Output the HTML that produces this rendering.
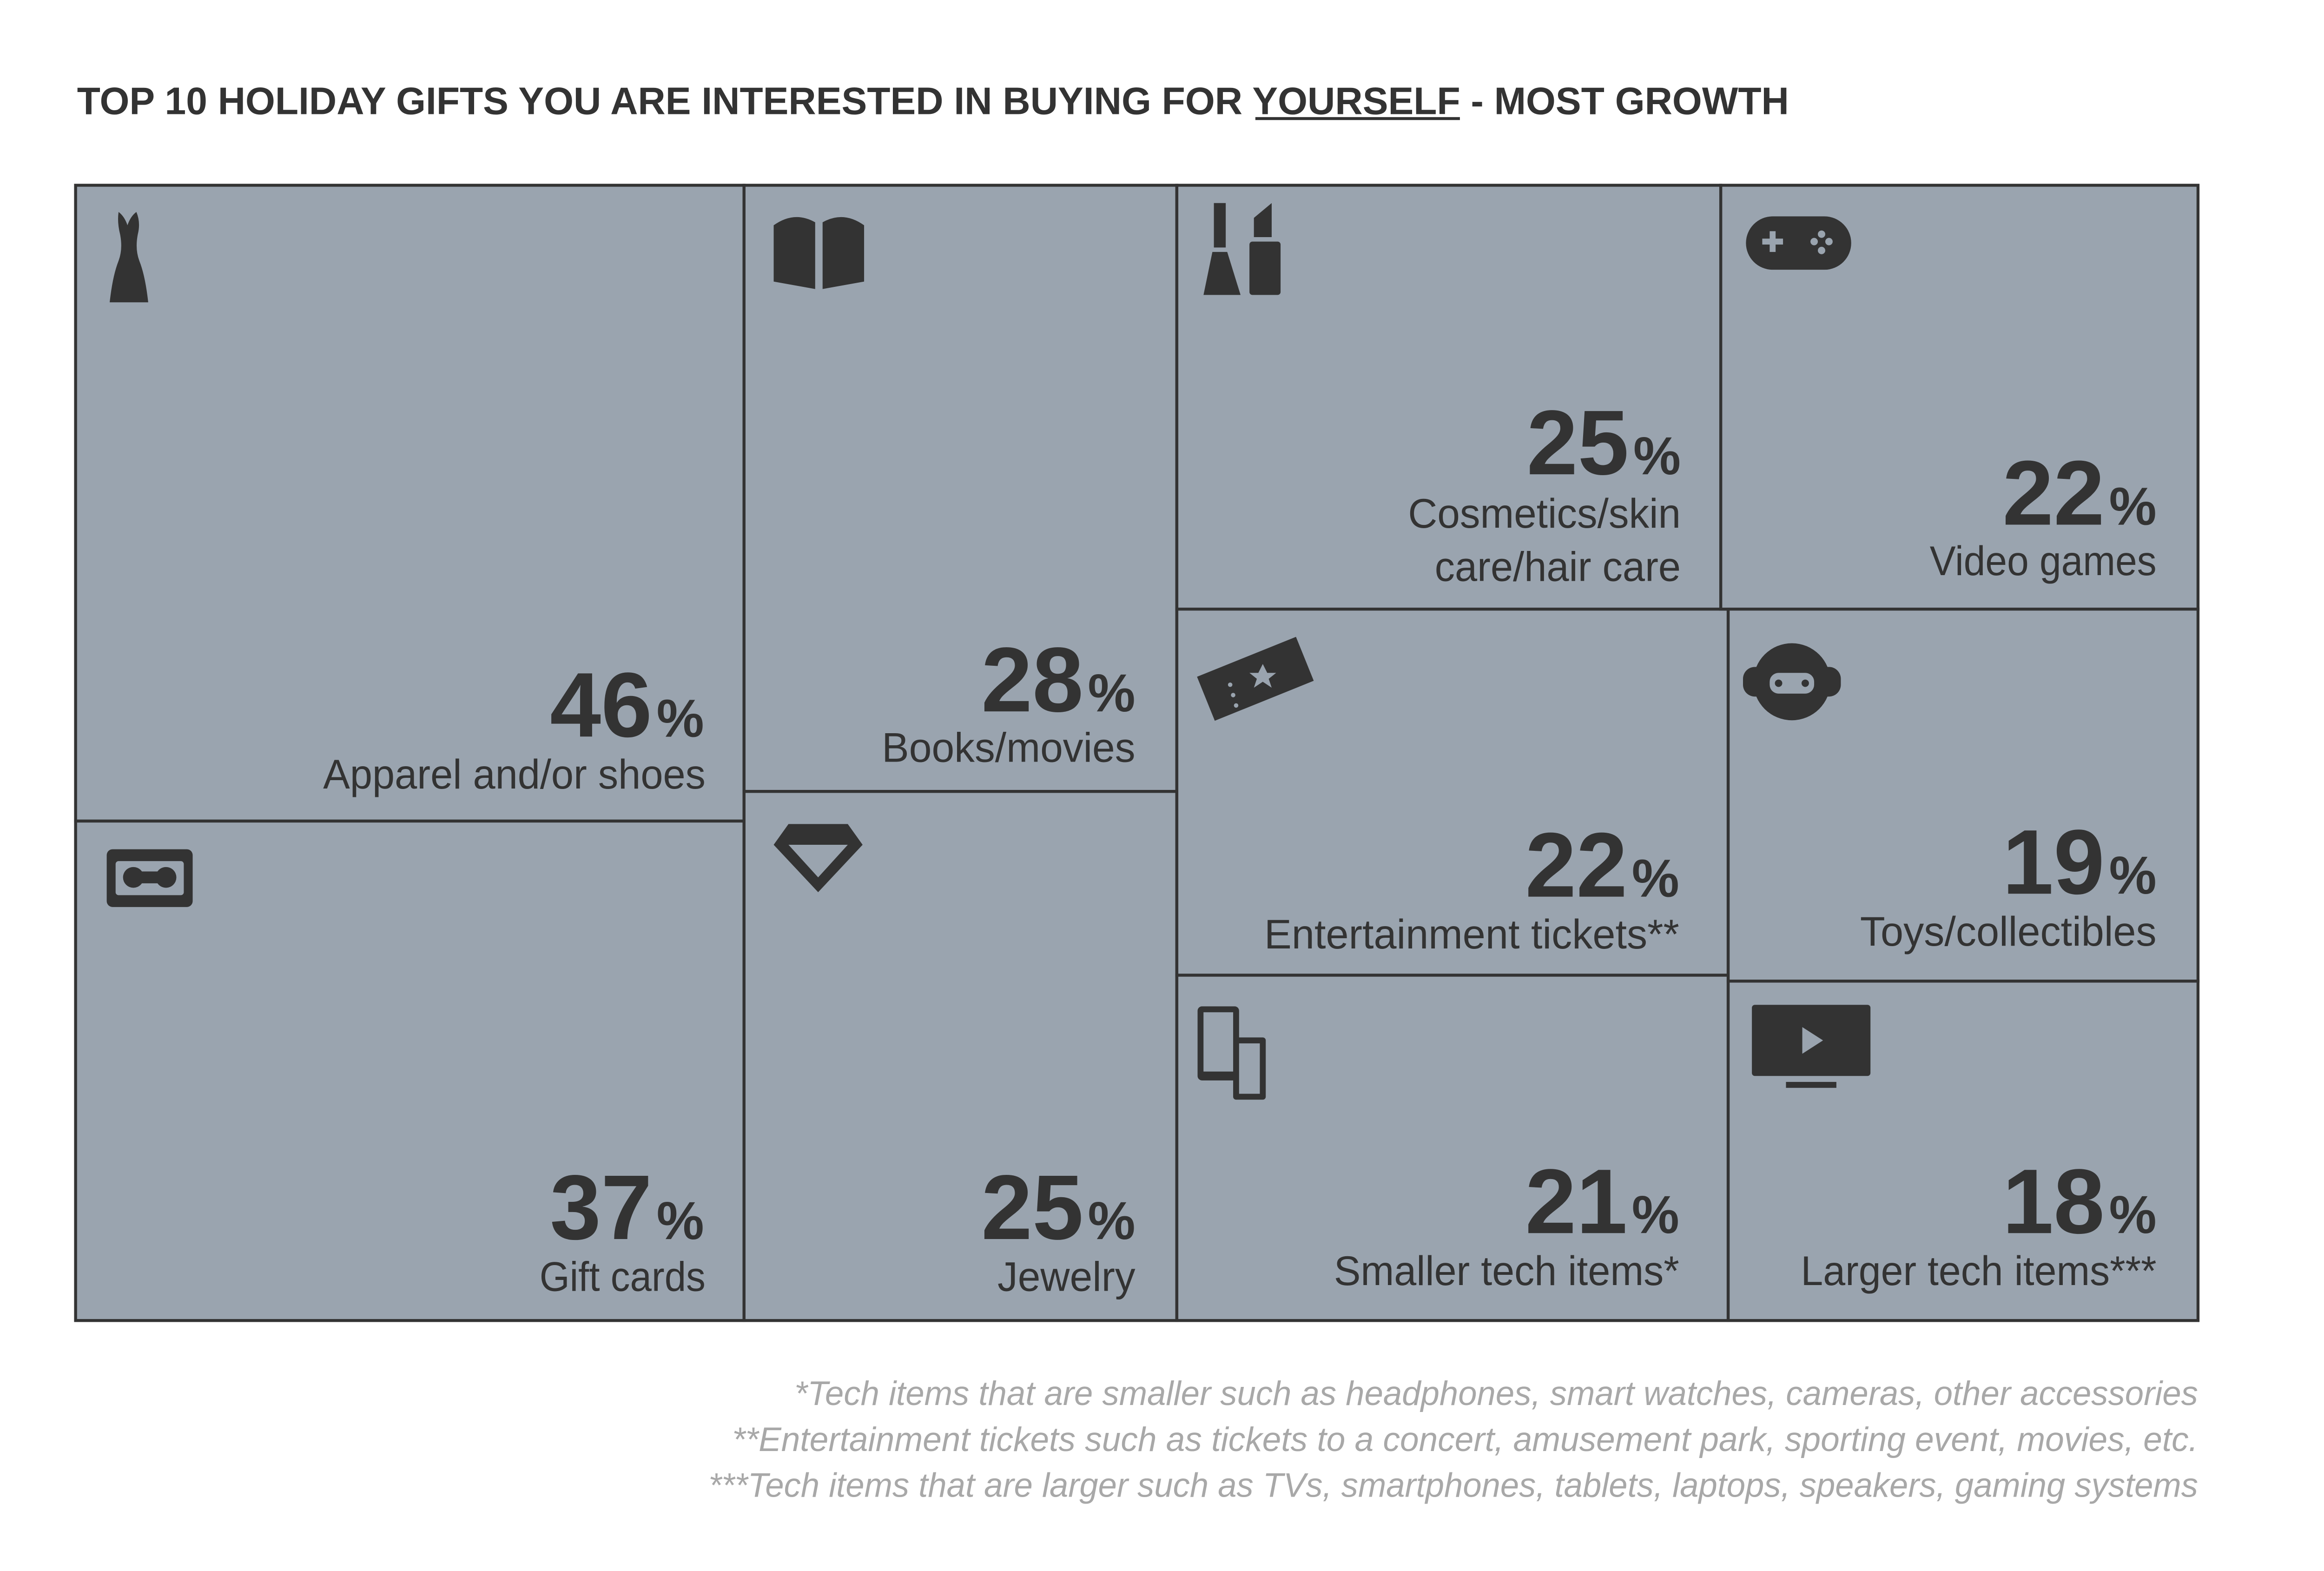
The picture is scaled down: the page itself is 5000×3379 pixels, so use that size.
<!DOCTYPE html>
<html><head><meta charset="utf-8"><style>
html,body{margin:0;padding:0;background:#fff;}
svg{display:block;}
</style></head><body>
<svg width="5000" height="3379" viewBox="0 0 1568 1060" preserveAspectRatio="none" xmlns="http://www.w3.org/2000/svg" font-family="Liberation Sans, sans-serif">
<rect width="1568" height="1060" fill="#fff"/>
<text x="52" y="77" font-size="26" font-weight="bold" fill="#333" textLength="1155" lengthAdjust="spacingAndGlyphs">TOP 10 HOLIDAY GIFTS YOU ARE INTERESTED IN BUYING FOR YOURSELF - MOST GROWTH</text>
<rect x="847" y="79" width="138" height="2" fill="#333"/>
<g fill="#9aa4af" stroke="#333" stroke-width="2">
<rect x="51" y="125" width="451" height="429"/>
<rect x="51" y="554" width="451" height="337"/>
<rect x="502" y="125" width="292" height="409"/>
<rect x="502" y="534" width="292" height="357"/>
<rect x="794" y="125" width="367" height="286"/>
<rect x="794" y="411" width="372" height="247"/>
<rect x="794" y="658" width="372" height="233"/>
<rect x="1161" y="125" width="322" height="286"/>
<rect x="1166" y="411" width="317" height="251"/>
<rect x="1166" y="662" width="317" height="229"/>
</g>
<g fill="#333">
<path d="M80 143 Q84 146 86 152 Q88 146 92 143 Q95 150 93 158 Q91 168 94 176 Q98 186 100 204 L74 204 Q76 186 80 176 Q83 168 81 158 Q79 150 80 143 Z"/>
<path d="M522 152 L522 190 L550 195 L550 150 Q536 142 522 152 Z M555 150 L555 195 L583 190 L583 152 Q569 142 555 150 Z"/>
<rect x="819" y="137" width="8" height="30"/><path d="M818 170 L828 170 L837 199 L812 199 Z"/>
<path d="M846 147 L858 137 L858 160 L846 160 Z"/><rect x="843" y="163" width="21" height="36" rx="2"/>
<rect x="1178" y="146" width="71" height="36" rx="18"/>
<rect x="811" y="442" width="72" height="32" transform="rotate(-22 847 458)"/>
<circle cx="1209" cy="460" r="26"/><rect x="1176" y="450" width="66" height="20" rx="8"/>
<rect x="72" y="573" width="58" height="39" rx="4"/>
<path d="M532 556 L572 556 L582 570 L552 602 L522 570 Z"/>
<rect x="808" y="679" width="28" height="50" rx="3"/><rect x="832" y="700" width="22" height="42" rx="2"/>
<rect x="1182" y="678" width="80" height="48" rx="2"/><rect x="1205" y="730" width="34" height="4"/>
</g>
<g fill="#9aa4af">
<rect x="78" y="581" width="46" height="23" rx="2"/>
<rect x="1189" y="161" width="14" height="4"/><rect x="1194" y="156" width="4" height="14"/>
<circle cx="1229" cy="158" r="2.5"/><circle cx="1229" cy="169" r="2.5"/><circle cx="1224" cy="163" r="2.5"/><circle cx="1234" cy="163" r="2.5"/>
<rect x="1194" y="454" width="30" height="14" rx="6"/>
<rect x="812" y="683" width="20" height="40"/><rect x="836" y="704" width="14" height="34"/>
<path d="M1216 693 L1230 702 L1216 711 Z"/>
<path d="M532 570 L572 570 L552 592 Z"/>
<circle cx="830" cy="462" r="1.5"/><circle cx="832" cy="469" r="1.5"/><circle cx="834" cy="476" r="1.5"/>
<path d="M852 448 L855 454 L861 454 L856 458 L858 464 L852 460 L846 464 L848 458 L843 454 L849 454 Z"/>
</g>
<g fill="#333"><circle cx="90" cy="592" r="7"/><circle cx="112" cy="592" r="7"/><rect x="90" y="588" width="22" height="8"/>
<circle cx="1200" cy="461" r="2.5"/><circle cx="1218" cy="461" r="2.5"/></g>
<g fill="#333" text-anchor="end">
<g font-weight="bold" font-size="62">
<text x="440" y="497">46</text><text x="731" y="480">28</text><text x="1099" y="320">25</text><text x="1420" y="354">22</text>
<text x="1098" y="605">22</text><text x="1420" y="603">19</text><text x="440" y="836">37</text><text x="731" y="836">25</text>
<text x="1098" y="832">21</text><text x="1420" y="832">18</text>
</g>
<g font-weight="bold" font-size="36">
<text x="475" y="497">%</text><text x="766" y="480">%</text><text x="1134" y="320">%</text><text x="1455" y="354">%</text>
<text x="1133" y="605">%</text><text x="1455" y="603">%</text><text x="475" y="836">%</text><text x="766" y="836">%</text>
<text x="1133" y="832">%</text><text x="1455" y="832">%</text>
</g>
<g font-size="28">
<text x="476" y="532" textLength="258" lengthAdjust="spacingAndGlyphs">Apparel and/or shoes</text>
<text x="766" y="514" textLength="171" lengthAdjust="spacingAndGlyphs">Books/movies</text>
<text x="1134" y="356" textLength="184" lengthAdjust="spacingAndGlyphs">Cosmetics/skin</text>
<text x="1134" y="392" textLength="166" lengthAdjust="spacingAndGlyphs">care/hair care</text>
<text x="1455" y="388" textLength="153" lengthAdjust="spacingAndGlyphs">Video games</text>
<text x="1133" y="640" textLength="280" lengthAdjust="spacingAndGlyphs">Entertainment tickets**</text>
<text x="1455" y="638" textLength="200" lengthAdjust="spacingAndGlyphs">Toys/collectibles</text>
<text x="476" y="871" textLength="112" lengthAdjust="spacingAndGlyphs">Gift cards</text>
<text x="766" y="871" textLength="93" lengthAdjust="spacingAndGlyphs">Jewelry</text>
<text x="1133" y="867" textLength="233" lengthAdjust="spacingAndGlyphs">Smaller tech items*</text>
<text x="1455" y="867" textLength="240" lengthAdjust="spacingAndGlyphs">Larger tech items***</text>
</g>
</g>
<g fill="#a8a8a8" font-style="italic" font-size="23" text-anchor="end">
<text x="1483" y="948" textLength="947" lengthAdjust="spacingAndGlyphs">*Tech items that are smaller such as headphones, smart watches, cameras, other accessories</text>
<text x="1483" y="979" textLength="989" lengthAdjust="spacingAndGlyphs">**Entertainment tickets such as tickets to a concert, amusement park, sporting event, movies, etc.</text>
<text x="1483" y="1010" textLength="1005" lengthAdjust="spacingAndGlyphs">***Tech items that are larger such as TVs, smartphones, tablets, laptops, speakers, gaming systems</text>
</g>
</svg>
</body></html>
